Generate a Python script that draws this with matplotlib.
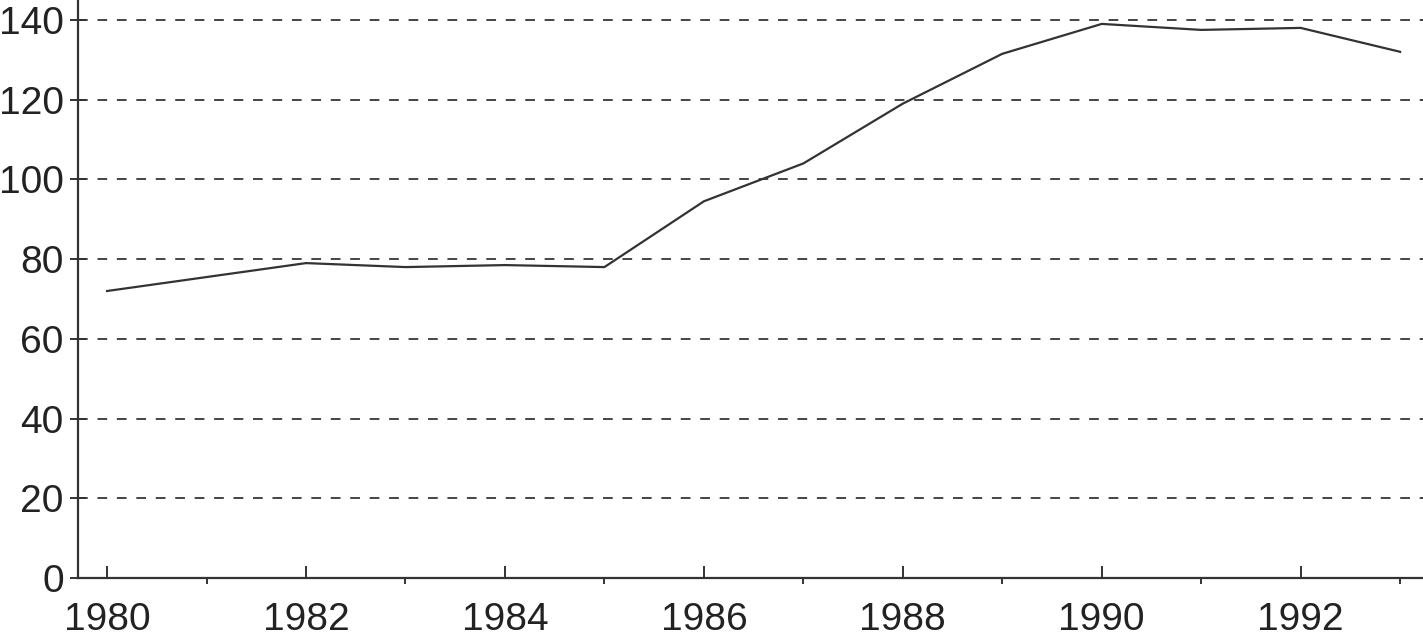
import numpy as np
import matplotlib
matplotlib.use("Agg")
import matplotlib.pyplot as plt
from matplotlib.ticker import MultipleLocator

# Values
years = [1980, 1981, 1982, 1983, 1984, 1985, 1986, 1987, 1988, 1989, 1990, 1991, 1992, 1993]
values = [72, 75.5, 79, 78, 78.5, 78, 94.5, 104, 119, 131.5, 139, 137.5, 138, 132]
yticks = [0, 20, 40, 60, 80, 100, 120, 140]
xlabels = [1980, 1982, 1984, 1986, 1988, 1990, 1992]

plt.rcParams['font.family'] = ['Liberation Sans', 'DejaVu Sans']

fig = plt.figure(figsize=(14.23, 6.37), dpi=100)
ax = fig.add_axes([0.055, 0.0926, 0.945, 0.9074])

# Grid lines (dashed)
for v in yticks[1:]:
    ax.axhline(v, color='#444444', lw=1.4, dashes=(5, 5), zorder=1)

ax.plot(years, values, color='#333333', lw=1.6, zorder=3)

ax.set_xlim(1979.71, 1993.23)
ax.set_ylim(0, 145)

ax.spines['top'].set_visible(False)
ax.spines['right'].set_visible(False)
ax.spines['left'].set_linewidth(1.6)
ax.spines['bottom'].set_linewidth(1.6)
ax.spines['left'].set_color('#333333')
ax.spines['bottom'].set_color('#333333')

ax.set_yticks(yticks)
ax.set_yticklabels([str(v) for v in yticks])
ax.set_xticks(xlabels)
ax.set_xticklabels([str(v) for v in xlabels])
ax.xaxis.set_minor_locator(MultipleLocator(1))

ax.tick_params(axis='y', direction='inout', length=11, width=1.4, pad=5,
               labelsize=28, colors='#333333', labelcolor='#222222')
ax.tick_params(axis='x', which='major', direction='in', length=9, width=1.4, pad=17,
               labelsize=28, colors='#333333', labelcolor='#222222')
ax.tick_params(axis='x', which='minor', direction='out', length=4.5, width=1.4,
               colors='#333333')

fig.savefig('out.png', dpi=100)
